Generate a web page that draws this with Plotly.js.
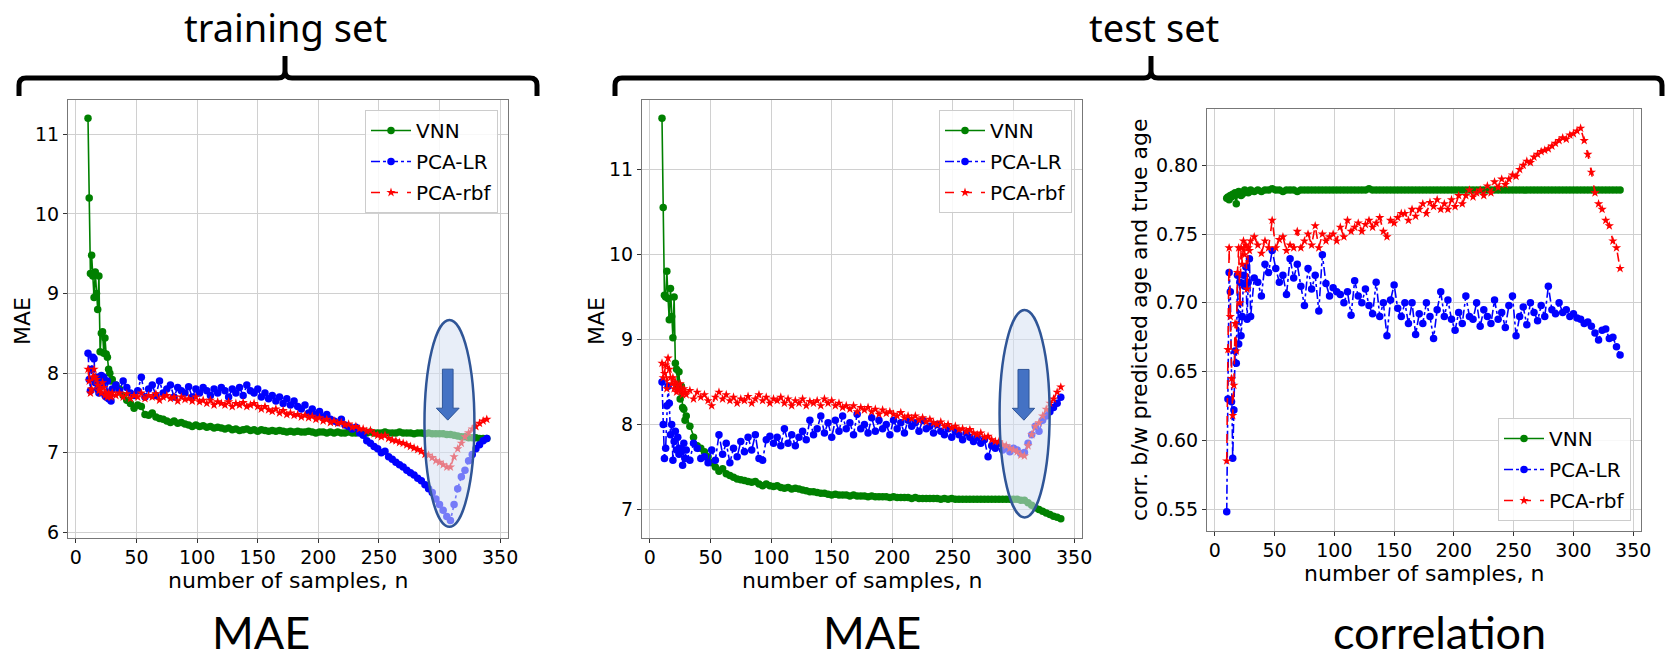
<!DOCTYPE html>
<html>
<head>
<meta charset="utf-8">
<script src="https://cdn.plot.ly/plotly-3.0.1.min.js"></script>
<style>html,body{margin:0;padding:0;background:#fff;}#chart{width:1668px;height:659px;}</style>
</head>
<body>
<div id="chart"></div>
<script>
// ---- data ----
const nSamples = [10,11,12,13,14,15,16,17,18,19,20,21,22,23,24,25,26,27,28,29,30,
 33,36,39,42,45,48,51,54,57,60,63,66,69,72,75,78,81,84,87,90,93,96,99,102,105,108,111,114,117,120,
 123,126,129,132,135,138,141,144,147,150,153,156,159,162,165,168,171,174,177,180,183,186,189,192,195,198,201,204,207,210,
 213,216,219,222,225,228,231,234,237,240,243,246,249,252,255,258,261,264,267,270,273,276,279,282,285,288,291,294,297,300,
 303,306,309,312,315,318,321,324,327,330,333,336,339];

const seriesNames = ["VNN","PCA-LR","PCA-rbf"];

// training set MAE
const trainVNN = [11.2,10.2,9.25,9.48,9.22,8.95,9.27,9.0,8.8,9.22,8.27,8.5,8.52,8.25,8.44,8.24,8.2,8.05,8.0,7.9,7.92,
 7.85,7.8,7.72,7.66,7.62,7.56,7.6,7.58,7.48,7.47,
 7.5,7.45,7.43,7.42,7.4,7.38,7.4,7.37,7.38,7.36,
 7.35,7.33,7.35,7.33,7.34,7.32,7.33,7.31,7.32,7.31,
 7.3,7.31,7.29,7.3,7.28,7.29,7.3,7.28,7.29,7.27,
 7.29,7.28,7.27,7.28,7.27,7.28,7.27,7.26,7.27,7.26,
 7.27,7.26,7.26,7.27,7.26,7.25,7.26,7.26,7.25,7.26,
 7.25,7.26,7.25,7.25,7.26,7.25,7.25,7.26,7.25,7.25,
 7.26,7.25,7.25,7.25,7.26,7.25,7.25,7.25,7.26,7.25,
 7.25,7.25,7.24,7.25,7.25,7.24,7.25,7.24,7.24,7.24,
 7.24,7.23,7.23,7.22,7.21,7.2,7.2,7.19,7.19,7.19,
 7.18,7.18,7.18];
const trainLR = [8.25,7.92,7.78,8.05,8.2,8.18,7.88,7.95,7.8,7.75,7.92,7.97,7.85,7.95,7.72,7.7,7.9,7.68,7.72,7.65,7.8,
 7.85,7.78,7.9,7.82,7.75,7.72,7.78,7.95,7.7,7.8,
 7.85,7.72,7.9,7.75,7.8,7.85,7.7,7.82,7.78,7.75,
 7.83,7.7,7.8,7.75,7.82,7.78,7.72,7.8,7.75,7.82,
 7.78,7.7,7.8,7.75,7.82,7.72,7.85,7.78,7.75,7.8,
 7.7,7.75,7.68,7.72,7.65,7.7,7.62,7.68,7.6,7.65,
 7.58,7.55,7.6,7.5,7.55,7.48,7.52,7.45,7.48,7.42,
 7.4,7.38,7.42,7.35,7.33,7.3,7.32,7.25,7.22,7.15,
 7.12,7.08,7.05,7.0,7.02,6.95,6.92,6.88,6.85,6.82,
 6.78,6.75,6.72,6.68,6.65,6.6,6.55,6.5,6.42,6.35,
 6.28,6.2,6.15,6.35,6.55,6.7,6.78,6.9,6.98,7.05,
 7.1,7.15,7.18];
const trainRBF = [8.05,7.9,7.75,7.8,7.95,8.05,7.95,7.92,7.85,7.78,7.8,7.75,7.88,7.82,7.72,7.75,7.7,7.75,7.72,7.7,7.75,
 7.72,7.75,7.7,7.74,7.68,7.72,7.7,7.75,7.68,7.72,
 7.7,7.74,7.66,7.7,7.72,7.68,7.7,7.65,7.7,7.67,
 7.68,7.65,7.7,7.64,7.66,7.62,7.66,7.6,7.64,7.62,
 7.6,7.64,7.58,7.62,7.6,7.63,7.58,7.6,7.62,7.58,
 7.55,7.58,7.54,7.52,7.55,7.5,7.53,7.48,7.5,7.47,
 7.48,7.45,7.47,7.44,7.46,7.42,7.44,7.4,7.42,7.38,
 7.4,7.37,7.38,7.35,7.36,7.32,7.33,7.3,7.3,7.27,
 7.28,7.24,7.22,7.2,7.22,7.18,7.16,7.15,7.13,7.12,
 7.1,7.08,7.06,7.04,7.02,6.98,6.97,6.94,6.9,6.88,
 6.85,6.82,6.82,6.95,7.05,7.12,7.2,7.25,7.3,7.33,
 7.37,7.4,7.42];

// test set MAE
const testVNN = [11.6,10.55,9.52,9.5,9.8,9.48,9.23,9.6,9.27,9.02,9.5,8.72,8.65,8.45,8.62,8.3,8.45,8.2,8.18,8.05,8.1,
 7.98,7.85,7.75,7.72,7.68,7.62,7.55,7.5,7.45,7.48,
 7.42,7.4,7.38,7.36,7.35,7.34,7.33,7.32,7.33,7.3,
 7.28,7.3,7.28,7.27,7.28,7.26,7.25,7.26,7.24,7.25,
 7.24,7.23,7.22,7.21,7.21,7.2,7.19,7.19,7.18,7.17,
 7.18,7.17,7.17,7.17,7.16,7.17,7.16,7.16,7.16,7.15,
 7.16,7.15,7.15,7.15,7.15,7.14,7.15,7.14,7.14,7.14,
 7.14,7.13,7.14,7.13,7.13,7.13,7.13,7.13,7.13,7.12,
 7.13,7.12,7.13,7.12,7.12,7.12,7.12,7.12,7.12,7.12,
 7.12,7.12,7.12,7.12,7.12,7.12,7.12,7.12,7.12,7.12,
 7.12,7.11,7.11,7.08,7.05,7.02,7.0,6.98,6.96,6.94,
 6.92,6.91,6.89];
const testLR = [8.5,8.0,7.6,7.72,8.22,8.45,8.25,7.88,8.0,7.58,7.8,7.92,7.7,7.85,7.65,7.72,7.68,7.52,7.78,7.6,7.7,
 7.58,7.78,7.72,7.6,7.62,7.55,7.7,7.58,7.88,7.65,
 7.78,7.55,7.72,7.62,7.8,7.68,7.85,7.7,7.88,7.6,
 7.58,7.82,7.86,7.78,7.85,7.75,7.95,7.78,7.88,7.75,
 7.85,7.92,7.82,8.05,7.88,7.95,8.1,7.9,8.02,7.85,
 8.05,7.92,8.1,7.95,8.02,7.88,8.12,7.95,8.0,7.9,
 8.08,7.92,8.05,7.95,8.0,7.88,8.05,7.95,8.02,7.9,
 8.05,7.98,8.02,7.92,8.05,7.95,7.98,7.9,8.0,7.92,
 7.88,7.95,7.85,7.92,7.88,7.82,7.9,7.85,7.8,7.85,
 7.78,7.82,7.62,7.75,7.72,7.78,7.7,7.73,7.68,7.72,
 7.7,7.66,7.67,7.78,7.88,7.98,7.92,8.05,8.1,8.15,
 8.2,8.25,8.32];
const testRBF = [8.72,8.55,8.6,8.7,8.42,8.78,8.65,8.55,8.48,8.55,8.42,8.5,8.38,8.45,8.4,8.48,8.4,8.35,8.42,8.38,8.35,
 8.4,8.3,8.38,8.32,8.35,8.28,8.22,8.32,8.38,8.3,
 8.35,8.28,8.32,8.25,8.3,8.28,8.33,8.25,8.3,8.35,
 8.28,8.32,8.25,8.3,8.28,8.32,8.25,8.3,8.22,8.28,
 8.25,8.3,8.22,8.27,8.25,8.28,8.22,8.3,8.25,8.28,
 8.22,8.25,8.2,8.22,8.18,8.22,8.15,8.2,8.17,8.2,
 8.15,8.18,8.12,8.17,8.13,8.15,8.12,8.1,8.14,8.08,
 8.1,8.07,8.1,8.05,8.08,8.03,8.06,8.02,8.0,8.03,
 7.98,8.0,7.96,7.98,7.94,7.95,7.92,7.94,7.9,7.88,
 7.9,7.85,7.86,7.82,7.8,7.8,7.76,7.75,7.72,7.7,
 7.68,7.64,7.63,7.75,7.88,7.98,8.02,8.1,8.18,8.25,
 8.3,8.38,8.44];

// test set correlation
const corrVNN = [0.776,0.777,0.775,0.778,0.777,0.779,0.778,0.78,0.772,0.779,0.781,0.78,0.778,0.779,0.78,0.782,0.781,0.781,0.78,0.781,0.782,
 0.781,0.782,0.781,0.782,0.782,0.783,0.782,0.782,0.781,0.782,
 0.782,0.782,0.781,0.782,0.782,0.782,0.782,0.782,0.782,0.782,
 0.782,0.782,0.782,0.782,0.782,0.782,0.782,0.782,0.782,0.782,
 0.782,0.782,0.783,0.782,0.782,0.782,0.782,0.782,0.782,0.782,
 0.782,0.782,0.782,0.782,0.782,0.782,0.782,0.782,0.782,0.782,
 0.782,0.782,0.782,0.782,0.782,0.782,0.782,0.782,0.782,0.782,
 0.782,0.782,0.782,0.782,0.782,0.782,0.782,0.782,0.782,0.782,
 0.782,0.782,0.782,0.782,0.782,0.782,0.782,0.782,0.782,0.782,
 0.782,0.782,0.782,0.782,0.782,0.782,0.782,0.782,0.782,0.782,
 0.782,0.782,0.782,0.782,0.782,0.782,0.782,0.782,0.782,0.782,
 0.782,0.782,0.782];
const corrLR = [0.548,0.63,0.722,0.708,0.628,0.587,0.622,0.665,0.656,0.72,0.67,0.715,0.676,0.69,0.72,0.712,0.726,0.688,0.715,0.732,0.69,
 0.718,0.715,0.705,0.728,0.722,0.738,0.725,0.715,0.72,0.706,
 0.732,0.718,0.728,0.712,0.698,0.725,0.71,0.72,0.694,0.735,
 0.714,0.705,0.711,0.708,0.706,0.7,0.708,0.691,0.716,0.705,
 0.7,0.71,0.698,0.692,0.715,0.69,0.7,0.676,0.702,0.713,
 0.696,0.69,0.7,0.685,0.7,0.677,0.692,0.685,0.7,0.69,
 0.674,0.695,0.708,0.69,0.702,0.688,0.68,0.693,0.685,0.705,
 0.69,0.688,0.7,0.683,0.695,0.69,0.685,0.702,0.688,0.693,
 0.682,0.698,0.705,0.676,0.69,0.697,0.684,0.7,0.693,0.687,
 0.698,0.69,0.712,0.695,0.692,0.7,0.693,0.695,0.69,0.692,
 0.689,0.688,0.685,0.686,0.683,0.678,0.673,0.68,0.681,0.674,
 0.675,0.668,0.662];
const corrRBF = [0.585,0.666,0.74,0.69,0.645,0.618,0.64,0.685,0.665,0.722,0.74,0.7,0.74,0.728,0.745,0.735,0.742,0.71,0.74,0.738,0.745,
 0.748,0.742,0.736,0.745,0.74,0.76,0.74,0.746,0.748,0.738,
 0.742,0.74,0.752,0.74,0.745,0.75,0.742,0.756,0.74,0.75,
 0.745,0.748,0.75,0.745,0.755,0.748,0.76,0.752,0.755,0.758,
 0.752,0.757,0.76,0.755,0.758,0.762,0.752,0.748,0.76,0.758,
 0.762,0.765,0.765,0.76,0.768,0.763,0.768,0.772,0.765,0.773,
 0.77,0.775,0.768,0.772,0.768,0.775,0.77,0.778,0.772,0.778,
 0.782,0.777,0.78,0.782,0.778,0.785,0.78,0.788,0.784,0.79,
 0.786,0.79,0.793,0.792,0.797,0.8,0.803,0.802,0.806,0.808,
 0.81,0.811,0.812,0.814,0.816,0.818,0.82,0.819,0.822,0.823,
 0.825,0.827,0.818,0.808,0.795,0.78,0.772,0.768,0.76,0.756,
 0.745,0.74,0.725];

const xTicks = [0,50,100,150,200,250,300,350];
const yTicksTrain = [6,7,8,9,10,11];
const yTicksTest = [7,8,9,10,11];
const yTicksCorr = [0.55,0.60,0.65,0.70,0.75,0.80];

// ---- styling ----
const W = 1668, H = 659;
const fx = v => v / W;
const fy = v => 1 - v / H;
const FONT = "DejaVu Sans, sans-serif";
const styles = [
  {line:{color:"#008000", width:1.6}, marker:{color:"#008000", size:7.5, symbol:"circle"}},
  {line:{color:"#0000ff", width:1.6, dash:"dashdot"}, marker:{color:"#0000ff", size:7.5, symbol:"circle"}},
  {line:{color:"#ff0000", width:1.6, dash:"dash"}, marker:{color:"#ff0000", size:7, symbol:"star"}}
];

function mk(y, i, xa, ya, leg) {
  return {x:nSamples, y:y, name:seriesNames[i], type:"scatter", mode:"lines+markers",
    xaxis:xa, yaxis:ya, legend:leg, legendgroup:leg + i,
    line:styles[i].line, marker:styles[i].marker, hoverinfo:"x+y"};
}
const traces = [
  mk(trainVNN,0,"x","y","legend"), mk(trainLR,1,"x","y","legend"), mk(trainRBF,2,"x","y","legend"),
  mk(testVNN,0,"x2","y2","legend2"), mk(testLR,1,"x2","y2","legend2"), mk(testRBF,2,"x2","y2","legend2"),
  mk(corrVNN,0,"x3","y3","legend3"), mk(corrLR,1,"x3","y3","legend3"), mk(corrRBF,2,"x3","y3","legend3")
];

const axisBase = {ticks:"outside", ticklen:4, tickcolor:"#333", showline:true, mirror:true,
  linecolor:"#777", linewidth:1, showgrid:true, gridcolor:"#d0d0d0", gridwidth:1, zeroline:false,
  tickfont:{family:FONT, size:19, color:"#000"}, automargin:false};
function xax(dom, anchor) {
  return Object.assign({domain:dom, anchor:anchor, range:[-6.5,356.5], tickvals:xTicks, ticklabelstandoff:-2}, axisBase);
}
function yax(dom, anchor, range, ticks, fmt) {
  return Object.assign({domain:dom, anchor:anchor, range:range, tickvals:ticks, tickformat:fmt}, axisBase);
}

function brace(x0, x1, xm, yl, yend, ytip, r) {
  const P = (a,b) => fx(a) + "," + fy(b);
  return "M " + P(x0,yend) + " L " + P(x0,yl+r) + " Q " + P(x0,yl) + " " + P(x0+r,yl) +
    " L " + P(xm-r,yl) + " Q " + P(xm,yl) + " " + P(xm,yl-r) + " L " + P(xm,ytip) +
    " M " + P(xm,yl-r) + " Q " + P(xm,yl) + " " + P(xm+r,yl) +
    " L " + P(x1-r,yl) + " Q " + P(x1,yl) + " " + P(x1,yl+r) + " L " + P(x1,yend);
}

function ellipse(xr, yr, x0, x1, y0, y1) {
  return {type:"circle", xref:xr, yref:yr, x0:x0, x1:x1, y0:y0, y1:y1, layer:"above",
    fillcolor:"rgba(214,224,242,0.55)", line:{color:"#2f5597", width:2.5}};
}
function arrow(xr, yr, xl, xr2, ytop, ybase, hl, hr, ytip, xtip) {
  const p = "M " + xl + "," + ytop + " L " + xr2 + "," + ytop + " L " + xr2 + "," + ybase + " L " + hr + "," + ybase +
    " L " + xtip + "," + ytip + " L " + hl + "," + ybase + " L " + xl + "," + ybase + " Z";
  return {type:"path", xref:xr, yref:yr, path:p, layer:"above", fillcolor:"#4472c4", line:{color:"#2f5597", width:1}};
}

const legendBase = {font:{family:FONT, size:20, color:"#000"}, bgcolor:"rgba(255,255,255,0.85)",
  bordercolor:"#cccccc", borderwidth:1, itemwidth:40, traceorder:"grouped", tracegroupgap:2};

function ann(text, x, y, family, size, angle) {
  return {text:text, xref:"paper", yref:"paper", x:fx(x), y:fy(y), showarrow:false, textangle:angle || 0,
    xanchor:"center", yanchor:"middle", font:{family:family, size:size, color:"#000"}};
}
const xTitle = "number of samples, n";

const layout = {
  width:W, height:H, margin:{l:0, r:0, t:0, b:0}, paper_bgcolor:"#fff", plot_bgcolor:"#fff",
  showlegend:true,
  xaxis: xax([fx(68), fx(508)], "y"),
  yaxis: yax([fy(538), fy(100)], "x", [5.93,11.43], yTicksTrain, "d"),
  xaxis2: xax([fx(642), fx(1082)], "y2"),
  yaxis2: yax([fy(538), fy(100)], "x2", [6.665,11.815], yTicksTest, "d"),
  xaxis3: xax([fx(1207), fx(1641)], "y3"),
  yaxis3: yax([fy(531), fy(109)], "x3", [0.534,0.841], yTicksCorr, ".2f"),
  legend: Object.assign({x:fx(498), y:fy(110), xanchor:"right", yanchor:"top"}, legendBase),
  legend2: Object.assign({x:fx(1072), y:fy(110), xanchor:"right", yanchor:"top"}, legendBase),
  legend3: Object.assign({x:fx(1631), y:fy(521), xanchor:"right", yanchor:"bottom"}, legendBase),
  shapes: [
    {type:"path", xref:"paper", yref:"paper", path:brace(19,537,285,78,96,56,7), line:{color:"#000", width:5}},
    {type:"path", xref:"paper", yref:"paper", path:brace(615,1662,1151,78,96,56,7), line:{color:"#000", width:5}},
    ellipse("x","y",287.6,328.8,6.07,8.667),
    arrow("x","y",302.4,311.2,8.05,7.56,297.4,316.2,7.41,306.8),
    ellipse("x2","y2",288.5,329.8,6.906,9.345),
    arrow("x2","y2",303.7,312.8,8.647,8.19,299,317.4,8.05,308.6)
  ],
  annotations: [
    ann("training set", 285, 27, "Noto Sans, sans-serif", 38),
    ann("test set", 1154, 27, "Noto Sans, sans-serif", 38),
    ann(xTitle, 288, 580, FONT, 22),
    ann(xTitle, 862, 580, FONT, 22),
    ann(xTitle, 1424, 573, FONT, 22),
    ann("MAE", 22, 321, FONT, 22, -90),
    ann("MAE", 596, 321, FONT, 22, -90),
    ann("corr. b/w predicted age and true age", 1139, 320, FONT, 22, -90),
    ann("MAE", 261, 632, "Lato, sans-serif", 45),
    ann("MAE", 872, 632, "Lato, sans-serif", 45),
    ann("correlation", 1439, 632, "Lato, sans-serif", 45)
  ]
};

Plotly.newPlot("chart", traces, layout, {displayModeBar:false, staticPlot:true});
</script>
</body>
</html>
